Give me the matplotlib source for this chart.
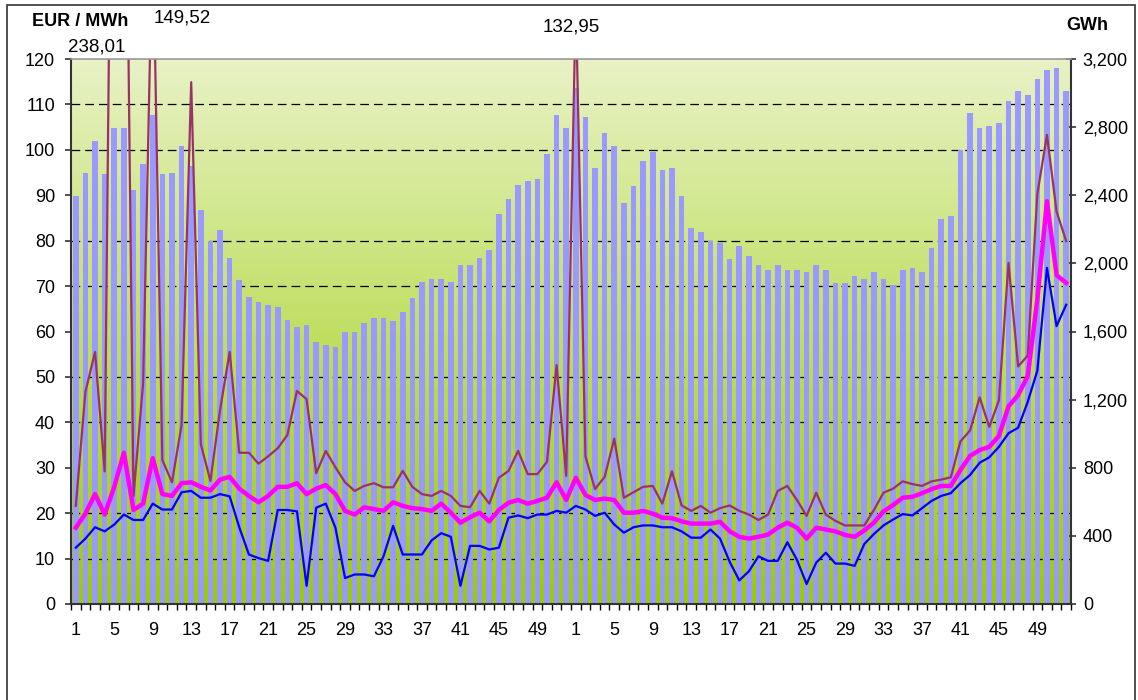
import numpy as np
import matplotlib
matplotlib.use('Agg')
import matplotlib.pyplot as plt
from matplotlib.colors import LinearSegmentedColormap
from matplotlib.patches import Rectangle
from matplotlib.ticker import FixedLocator, FuncFormatter

plt.rcParams['font.family'] = ['Liberation Sans', 'DejaVu Sans']

# week numbers for two consecutive years
weeks = list(range(1, 53)) + list(range(1, 53))

# weekly volume, GWh (bars, right axis)
gwh = [2397, 2533, 2717, 2525, 2795, 2795, 2429, 2584, 2869, 2525, 2533, 2688, 2571,
       2312, 2131, 2195, 2032, 1904, 1805, 1776, 1755, 1744, 1669, 1627, 1637, 1541,
       1520, 1509, 1597, 1600, 1648, 1677, 1677, 1659, 1715, 1795, 1893, 1907, 1907,
       1893, 1989, 1989, 2032, 2077, 2288, 2376, 2459, 2483, 2493, 2643, 2869, 2795,
       3032, 2859, 2560, 2765, 2688, 2352, 2453, 2600, 2653, 2547, 2560, 2397, 2208,
       2184, 2131, 2120, 2024, 2101, 2043, 1989, 1960, 1989, 1960, 1960, 1949, 1989,
       1960, 1885, 1885, 1923, 1907, 1949, 1907, 1872, 1960, 1973, 1949, 2091, 2259,
       2277, 2664, 2883, 2795, 2805, 2824, 2952, 3011, 2987, 3083, 3133, 3147, 3011]

# weekly max price, EUR/MWh
max_price = [21.6, 46.7, 55.5, 29.2, 238.01, 210.0, 23.8, 48.6, 149.52, 31.7, 26.8, 39.4, 114.9,
             35.2, 27.1, 42.7, 55.5, 33.3, 33.3, 30.9, 32.5, 34.3, 37.2, 46.9, 45.1, 28.8,
             33.7, 30.1, 26.8, 24.9, 26.0, 26.6, 25.7, 25.7, 29.3, 25.8, 24.2, 23.8, 24.9,
             23.8, 21.6, 21.3, 24.9, 22.1, 27.8, 29.3, 33.7, 28.6, 28.6, 31.3, 52.6, 28.2,
             132.95, 32.5, 25.3, 28.0, 36.4, 23.4, 24.6, 25.8, 26.0, 22.1, 29.2, 21.7, 20.5,
             21.6, 20.1, 21.1, 21.7, 20.5, 19.7, 18.5, 19.7, 24.9, 26.0, 22.9, 19.4, 24.5,
             19.7, 18.3, 17.3, 17.3, 17.3, 20.7, 24.5, 25.4, 27.0, 26.4, 26.0, 27.0, 27.4,
             27.9, 35.8, 38.2, 45.5, 39.0, 44.8, 75.1, 52.3, 54.7, 90.3, 103.3, 86.4, 79.9]

# weekly average price, EUR/MWh
avg_price = [16.8, 19.9, 24.2, 19.7, 25.8, 33.3, 20.7, 22.1, 32.1, 24.2, 23.8, 26.6, 26.8,
             25.8, 25.0, 27.4, 28.0, 25.4, 23.8, 22.4, 23.8, 25.8, 25.8, 26.6, 24.2, 25.4,
             26.2, 24.2, 20.5, 19.7, 21.3, 20.9, 20.5, 22.4, 21.6, 21.1, 20.9, 20.5, 22.1,
             20.1, 17.9, 19.1, 20.1, 18.2, 20.7, 22.3, 22.9, 22.1, 22.7, 23.4, 26.8, 22.9,
             27.8, 24.0, 22.9, 23.2, 22.9, 20.1, 20.1, 20.5, 19.9, 19.0, 18.9, 18.2, 17.7,
             17.7, 17.7, 18.1, 16.0, 14.8, 14.4, 14.8, 15.3, 16.8, 17.9, 16.8, 14.4, 16.8,
             16.4, 16.0, 15.2, 14.8, 16.2, 17.9, 20.4, 21.8, 23.4, 23.6, 24.4, 25.3, 26.0,
             26.0, 29.5, 32.6, 33.9, 34.6, 37.0, 43.5, 46.0, 50.2, 67.1, 88.7, 72.4, 70.7]

# weekly min price, EUR/MWh
min_price = [12.4, 14.4, 16.9, 16.0, 17.5, 19.7, 18.5, 18.5, 22.1, 20.8, 20.8, 24.6, 24.9,
             23.4, 23.4, 24.2, 23.7, 16.9, 10.9, 10.1, 9.5, 20.7, 20.7, 20.4, 4.0, 21.2,
             22.1, 16.8, 5.7, 6.5, 6.5, 6.1, 10.5, 17.2, 10.9, 10.9, 10.9, 14.0, 15.6,
             14.8, 4.0, 12.8, 12.8, 12.0, 12.4, 19.0, 19.5, 18.9, 19.7, 19.7, 20.5, 20.1,
             21.6, 20.8, 19.4, 20.1, 17.5, 15.7, 16.9, 17.3, 17.3, 16.9, 16.9, 16.0, 14.6,
             14.6, 16.4, 14.4, 9.3, 5.2, 7.2, 10.5, 9.5, 9.5, 13.6, 9.7, 4.4, 9.1,
             11.3, 8.9, 8.9, 8.4, 13.2, 15.4, 17.3, 18.6, 19.8, 19.5, 21.1, 22.7, 23.8,
             24.4, 26.6, 28.4, 31.1, 32.3, 34.6, 37.6, 38.8, 44.5, 51.4, 74.0, 61.2, 65.9]

W, H = 1138, 700
fig = plt.figure(figsize=(W / 100, H / 100), dpi=100)
ax = fig.add_axes([71 / W, 1 - 604 / H, 1000 / W, 545 / H])
x = np.arange(len(gwh))

# plot area gradient
cmap = LinearSegmentedColormap.from_list('bg', ['#99CC00', '#E8F2C6'])
grad = np.linspace(0, 1, 256).reshape(-1, 1)
ax.imshow(grad, extent=[0, 1, 0, 1], transform=ax.transAxes, origin='lower',
          aspect='auto', cmap=cmap, zorder=0)

ax.bar(x, gwh, width=0.58, color='#9999FF', zorder=1)
ax.set_xlim(-0.5, len(gwh) - 0.5)
ax.set_ylim(0, 3200)

ax2 = ax.twinx()
ax2.plot(x, max_price, color='#993366', lw=1.6)
ax2.plot(x, min_price, color='#0000FF', lw=1.6)
ax2.plot(x, avg_price, color='#FF00FF', lw=3.2)
ax2.set_ylim(0, 120)

# volume axis on the right, price axis on the left
ax.yaxis.tick_right()
ax.yaxis.set_label_position('right')
ax2.yaxis.tick_left()
ax2.yaxis.set_label_position('left')

ax.set_yticks(range(0, 3201, 400))
ax.yaxis.set_major_formatter(FuncFormatter(lambda v, p: f'{v:,.0f}'))
# gridlines follow the EUR axis (every 10)
ax.yaxis.set_minor_locator(FixedLocator(np.arange(10, 120, 10) * 3200 / 120))
ax.grid(axis='y', which='minor', color='black', linestyle=(0, (7, 4)), linewidth=0.9)
ax.set_axisbelow(True)
ax.tick_params(axis='y', which='minor', length=0)
ax.tick_params(axis='y', which='major', direction='inout', length=7, width=1.2,
               labelsize=13, pad=5, color='#333333')
for s in ax.spines.values():
    s.set_visible(False)

ax.set_xticks(x[::4])
ax.set_xticklabels([str(w) for w in weeks[::4]])
ax.set_xticks(np.arange(-0.5, len(gwh), 1), minor=True)
ax.tick_params(axis='x', which='major', length=0, pad=13, labelsize=13)
ax.tick_params(axis='x', which='minor', length=4.5, width=1, direction='out')

ax2.set_yticks(range(0, 121, 10))
ax2.tick_params(axis='y', direction='out', length=4.5, width=1.2, labelsize=13,
                pad=7, color='#333333')
for side in ['left', 'right', 'bottom']:
    ax2.spines[side].set_color('#333333')
    ax2.spines[side].set_linewidth(1.5)
ax2.spines['top'].set_color('#999999')
ax2.spines['top'].set_linewidth(1.2)

# axis titles and off-scale peaks
fig.text(32 / W, 1 - 22 / H, 'EUR / MWh', weight='bold', fontsize=13, va='center')
fig.text(1066 / W, 1 - 25 / H, 'GWh', weight='bold', fontsize=13, va='center')
fmt = lambda v: f'{v:.2f}'.replace('.', ',')
fig.text(97 / W, 1 - 47 / H, fmt(max_price[4]), fontsize=13.5, ha='center', va='center')
fig.text(182 / W, 1 - 18 / H, fmt(max_price[8]), fontsize=13.5, ha='center', va='center')
fig.text(571 / W, 1 - 27 / H, fmt(max_price[52]), fontsize=13.5, ha='center', va='center')

fig.add_artist(Rectangle((7 / W, -0.02), (1135 - 7) / W, 1 - 5 / H + 0.02,
                         transform=fig.transFigure, fill=False,
                         edgecolor='#333333', lw=1.2))

fig.savefig('out.png', dpi=100)
